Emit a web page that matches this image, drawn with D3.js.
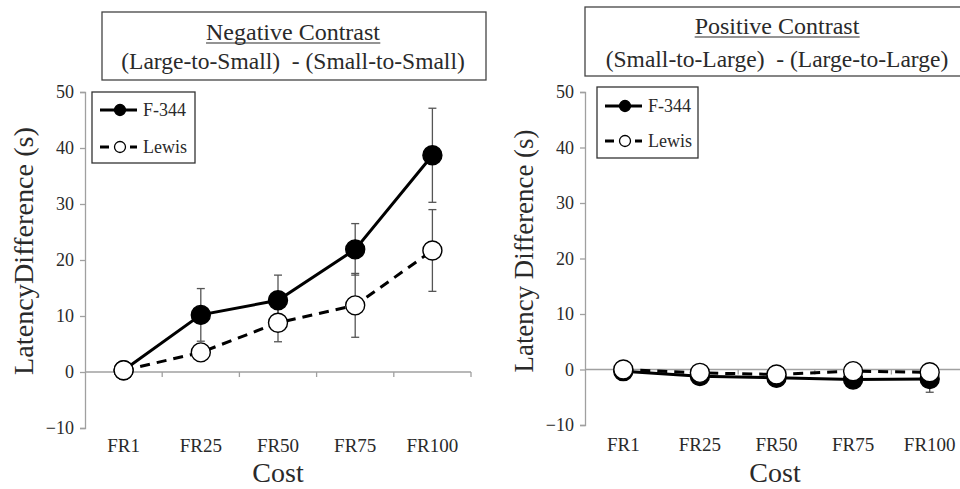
<!DOCTYPE html>
<html><head><meta charset="utf-8">
<script src="https://cdn.jsdelivr.net/npm/d3@7"></script>
<style>body{margin:0;background:#fff;overflow:hidden}text{font-family:"Liberation Serif","Times New Roman",serif !important;fill:#2a2a2a;white-space:pre}</style>
</head><body>
<svg id="chart" width="960" height="489"></svg>
<script>
const categories = ["FR1","FR25","FR50","FR75","FR100"];
const yTicks = [-10,0,10,20,30,40,50];
const seriesNames = ["F-344","Lewis"];
// Negative contrast
const negF344 = [0.3,10.2,12.8,21.9,38.7];
const negF344Err = [0.3,4.7,4.5,4.6,8.4];
const negLewis = [0.3,3.5,8.8,11.9,21.7];
const negLewisErr = [0.3,1.5,3.4,5.7,7.3];
// Positive contrast
const posF344 = [-0.3,-1.2,-1.5,-1.8,-1.7];
const posF344Err = [0.3,0.6,0.6,0.6,2.4];
const posLewis = [0.0,-0.6,-0.9,-0.3,-0.5];
const posLewisErr = [0.2,0.3,0.4,0.3,0.4];

const svg = d3.select("#chart");

function panel(o){
  const g = svg.append("g");
  const x = d3.scaleBand().domain(categories).range([o.x0,o.x1]);
  const y = d3.scaleLinear().domain([-10,50]).range([o.yBottom,o.yTop]);
  // title box
  g.append("rect").attr("x",o.tx).attr("y",o.ty).attr("width",o.tw).attr("height",o.th)
    .attr("fill","#fff").attr("stroke","#444").attr("stroke-width",1.3);
  const t1 = g.append("text").attr("x",o.tcx).attr("y",o.ty+o.l1).attr("text-anchor","middle")
    .attr("font-size",24).text(o.title1);
  const bb = t1.node().getBBox();
  g.append("line").attr("x1",bb.x).attr("x2",bb.x+bb.width).attr("y1",o.ty+o.l1+3).attr("y2",o.ty+o.l1+3)
    .attr("stroke","#2a2a2a").attr("stroke-width",1.2);
  g.append("text").attr("x",o.tcx).attr("y",o.ty+o.l2).attr("text-anchor","middle")
    .attr("font-size",23.5).text(o.title2);
  // y axis
  const ya = g.append("g").attr("transform",`translate(${o.x0},0)`)
    .call(d3.axisLeft(y).tickValues(yTicks).tickSize(5).tickSizeOuter(5).tickPadding(6));
  ya.select(".domain").attr("stroke","#a0a0a0").attr("stroke-width",1.3);
  ya.selectAll(".tick line").attr("stroke","#a0a0a0").attr("stroke-width",1.3);
  ya.selectAll(".tick text").attr("font-size",18).attr("fill","#2a2a2a");
  // x axis line at 0
  const edges = categories.map(c=>x(c)).concat([x.range()[1]]);
  g.append("line").attr("x1",o.x0).attr("x2",o.x1).attr("y1",y(0)).attr("y2",y(0))
    .attr("stroke","#a0a0a0").attr("stroke-width",1.3);
  g.selectAll(".xt").data(edges.slice(1)).enter().append("line")
    .attr("x1",d=>d).attr("x2",d=>d).attr("y1",y(0)).attr("y2",y(0)+5)
    .attr("stroke","#a0a0a0").attr("stroke-width",1.3);
  g.selectAll(".xl").data(categories).enter().append("text")
    .attr("x",d=>x(d)+x.bandwidth()/2).attr("y",o.catY).attr("text-anchor","middle")
    .attr("font-size",19).text(d=>d);
  g.append("text").attr("x",o.costX).attr("y",o.costY).attr("text-anchor","middle")
    .attr("font-size",28).text("Cost");
  g.append("text").attr("transform",`translate(${o.yTitleX},251) rotate(-90)`)
    .attr("text-anchor","middle").attr("font-size",27)
    .attr("textLength",o.yTitleLen).attr("lengthAdjust","spacingAndGlyphs").text(o.yTitle);
  // series
  const cx = d=>x(d)+x.bandwidth()/2;
  const series = [
    {vals:o.f, err:o.fe, dash:null, fill:"#000"},
    {vals:o.l, err:o.le, dash:"10,7", fill:"#fff"}
  ];
  const line = d3.line().x((d,i)=>cx(categories[i])).y(d=>y(d));
  series.forEach(s=>{
    s.vals.forEach((v,i)=>{
      const xx = cx(categories[i]);
      g.append("line").attr("x1",xx).attr("x2",xx).attr("y1",y(v-s.err[i])).attr("y2",y(v+s.err[i]))
        .attr("stroke","#555").attr("stroke-width",1.3);
      [v-s.err[i],v+s.err[i]].forEach(e=>g.append("line").attr("x1",xx-4).attr("x2",xx+4)
        .attr("y1",y(e)).attr("y2",y(e)).attr("stroke","#555").attr("stroke-width",1.3));
    });
  });
  series.forEach(s=>{
    g.append("path").attr("d",line(s.vals)).attr("fill","none").attr("stroke","#000")
      .attr("stroke-width",3).attr("stroke-dasharray",s.dash);
  });
  series.forEach(s=>{
    g.selectAll(null).data(s.vals).enter().append("circle")
      .attr("cx",(d,i)=>cx(categories[i])).attr("cy",d=>y(d)).attr("r",9.5)
      .attr("fill",s.fill).attr("stroke","#000").attr("stroke-width",1.4);
  });
  // legend
  const L = o.leg;
  g.append("rect").attr("x",L.x).attr("y",L.y).attr("width",L.w).attr("height",L.h)
    .attr("fill","#fff").attr("stroke","#333").attr("stroke-width",1.3);
  seriesNames.forEach((n,i)=>{
    const yy = L.y + L.r1 + i*L.gap;
    g.append("line").attr("x1",L.x+8).attr("x2",L.x+45).attr("y1",yy).attr("y2",yy)
      .attr("stroke","#000").attr("stroke-width",3).attr("stroke-dasharray",i? "9,6":null);
    g.append("circle").attr("cx",L.x+28).attr("cy",yy).attr("r",5.5)
      .attr("fill",i?"#fff":"#000").attr("stroke","#000").attr("stroke-width",1.3);
    g.append("text").attr("x",L.x+51).attr("y",yy+6).attr("font-size",18).text(n);
  });
}

panel({x0:85,x1:471,yTop:92,yBottom:428,
  tx:102,ty:12,tw:384,th:68,tcx:293,l1:28,l2:57,
  title1:"Negative Contrast",title2:"(Large-to-Small)  - (Small-to-Small)",
  catY:452,costY:482,costX:278,yTitleX:33,yTitleLen:248,yTitle:"LatencyDifference (s)",
  f:negF344,fe:negF344Err,l:negLewis,le:negLewisErr,
  leg:{x:92,y:92,w:103,h:71,r1:18,gap:37}});
panel({x0:585,x1:968,yTop:92,yBottom:425,
  tx:585,ty:7,tw:390,th:69,tcx:777,l1:27,l2:60,
  title1:"Positive Contrast",title2:"(Small-to-Large)  - (Large-to-Large)",
  catY:451,costY:482,costX:775,yTitleX:533,yTitleLen:243,yTitle:"Latency Difference (s)",
  f:posF344,fe:posF344Err,l:posLewis,le:posLewisErr,
  leg:{x:597,y:87,w:101,h:71,r1:19,gap:35}});
</script>
</body></html>
